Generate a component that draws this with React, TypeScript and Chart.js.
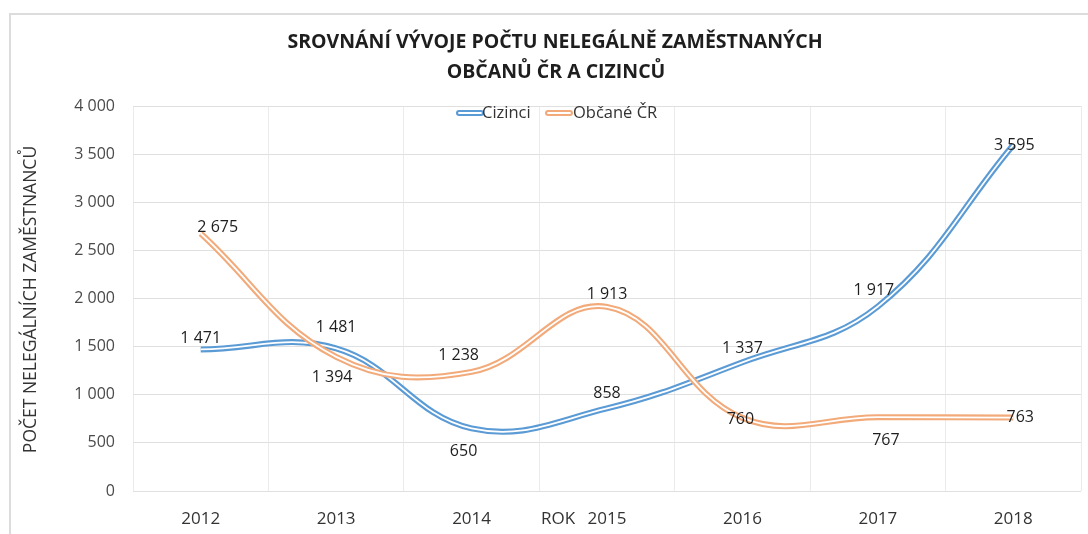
import React, { useEffect, useRef } from "react";
import { Chart, registerables } from "chart.js";

Chart.register(...registerables);

const years = ["2012", "2013", "2014", "2015", "2016", "2017", "2018"];
const cizinci = [1471, 1481, 650, 858, 1337, 1917, 3595];
const obcane = [2675, 1394, 1238, 1913, 760, 767, 763];
const seriesNames = ["Cizinci", "Občané ČR"];
const titleLines = ["SROVNÁNÍ VÝVOJE POČTU NELEGÁLNĚ ZAMĚSTNANÝCH", "OBČANŮ ČR A CIZINCŮ"];
const yAxisTitle = "POČET NELEGÁLNÍCH ZAMĚSTNANCŮ";
const xAxisTitle = "ROK";

const BLUE = "#5b9bd5";
const ORANGE = "#f2aa7a";
const FONT = "'Open Sans', 'DejaVu Sans', sans-serif";
const NARROW = "'Liberation Sans Narrow', 'Open Sans', sans-serif";
const OUTER_W = 6;
const INNER_W = 1.8;

// label offsets (style): [dx, dy] relative to point
const blueLabelOffsets = [[0, -11], [0, -21], [-8, 23], [0, -15], [0, -14], [-4, -16], [1, 0]];
const orangeLabelOffsets = [[17, -6], [-4, 21], [-13, -16], [0, -12], [-2, 2], [8, 23], [7, 0]];

const fmt = (v: number) => {
  const s = Math.round(v).toString();
  return s.replace(/\B(?=(\d{3})+(?!\d))/g, " ");
};

const decorPlugin = {
  id: "decor",
  afterDatasetsDraw(chart: any) {
    const ctx = chart.ctx;
    ctx.save();
    ctx.font = `16px ${FONT}`;
    ctx.fillStyle = "#1e1e1e";
    ctx.textAlign = "center";
    ctx.textBaseline = "middle";
    const drawLabels = (dsIndex: number, values: number[], offs: number[][]) => {
      const meta = chart.getDatasetMeta(dsIndex);
      meta.data.forEach((pt: any, i: number) => {
        ctx.fillText(fmt(values[i]), pt.x + offs[i][0], pt.y + offs[i][1]);
      });
    };
    drawLabels(0, cizinci, blueLabelOffsets);
    drawLabels(2, obcane, orangeLabelOffsets);
    ctx.restore();
  },
  afterDraw(chart: any) {
    const ctx = chart.ctx;
    const area = chart.chartArea;
    ctx.save();
    // Title
    ctx.fillStyle = "#1e1e1e";
    ctx.textAlign = "center";
    ctx.textBaseline = "middle";
    ctx.font = `bold 19.5px ${FONT}`;
    ctx.fillText(titleLines[0], 555, 42);
    ctx.fillText(titleLines[1], 556, 72);

    // Legend
    ctx.font = `16.5px ${FONT}`;
    ctx.textAlign = "left";
    const ly = 113;
    const drawSym = (x: number, color: string) => {
      ctx.lineCap = "round";
      ctx.strokeStyle = color;
      ctx.lineWidth = OUTER_W;
      ctx.beginPath();
      ctx.moveTo(x, ly);
      ctx.lineTo(x + 22, ly);
      ctx.stroke();
      ctx.strokeStyle = "#ffffff";
      ctx.lineWidth = INNER_W;
      ctx.beginPath();
      ctx.moveTo(x, ly);
      ctx.lineTo(x + 22, ly);
      ctx.stroke();
    };
    drawSym(459, BLUE);
    ctx.fillStyle = "#333333";
    ctx.fillText(seriesNames[0], 482, ly);
    drawSym(548, ORANGE);
    ctx.fillStyle = "#333333";
    ctx.fillText(seriesNames[1], 573, ly);

    // Y axis title
    ctx.save();
    ctx.translate(31, (area.top + area.bottom) / 2 + 1);
    ctx.rotate(-Math.PI / 2);
    ctx.textAlign = "center";
    ctx.font = `17.5px ${FONT}`;
    ctx.fillStyle = "#333333";
    ctx.fillText(yAxisTitle, 0, 0);
    ctx.restore();

    // X axis title
    ctx.textAlign = "center";
    ctx.font = `17px ${NARROW}`;
    ctx.fillStyle = "#333333";
    ctx.fillText(xAxisTitle, 558, 519);
    ctx.restore();
  },
};

export default function App() {
  const ref = useRef<HTMLCanvasElement>(null);
  useEffect(() => {
    const common = { tension: 0.4, pointRadius: 0, fill: false };
    const chart = new Chart(ref.current as HTMLCanvasElement, {
      type: "line",
      data: {
        labels: years,
        datasets: [
          { label: seriesNames[0], data: cizinci, borderColor: BLUE, borderWidth: OUTER_W, order: 4, ...common },
          { label: seriesNames[0] + " inner", data: cizinci, borderColor: "#ffffff", borderWidth: INNER_W, order: 3, ...common },
          { label: seriesNames[1], data: obcane, borderColor: ORANGE, borderWidth: OUTER_W, order: 2, ...common },
          { label: seriesNames[1] + " inner", data: obcane, borderColor: "#ffffff", borderWidth: INNER_W, order: 1, ...common },
        ],
      },
      options: {
        animation: false,
        responsive: false,
        layout: { padding: { top: 106, right: 7, left: 0, bottom: 0 } },
        plugins: { legend: { display: false }, title: { display: false }, tooltip: { enabled: false } },
        scales: {
          x: {
            offset: true,
            grid: { offset: true, color: "#ebebeb", drawTicks: false },
            border: { display: false },
            ticks: { color: "#333333", font: { size: 17, family: NARROW }, padding: 18 },
            afterFit: (s: any) => { s.height = 43; },
          },
          y: {
            min: 0,
            max: 4000,
            grid: { color: "#e0e0e0", drawTicks: false },
            border: { display: false },
            ticks: {
              stepSize: 500,
              color: "#4a4a4a",
              font: { size: 16, family: FONT },
              padding: 18,
              callback: (v: any) => fmt(Number(v)),
            },
            afterFit: (s: any) => { s.width = 133; },
          },
        },
      },
      plugins: [decorPlugin],
    } as any);
    return () => chart.destroy();
  }, []);

  return (
    <div style={{ position: "fixed", left: 0, top: 0, width: 1088, height: 534, overflow: "hidden", background: "#fff" }}>
      <div style={{ position: "absolute", left: 9, top: 13, width: 1100, height: 540, border: "2px solid #dcdcdc" }} />
      <canvas ref={ref} width={1088} height={534} style={{ position: "absolute", left: 0, top: 0 }} />
    </div>
  );
}
